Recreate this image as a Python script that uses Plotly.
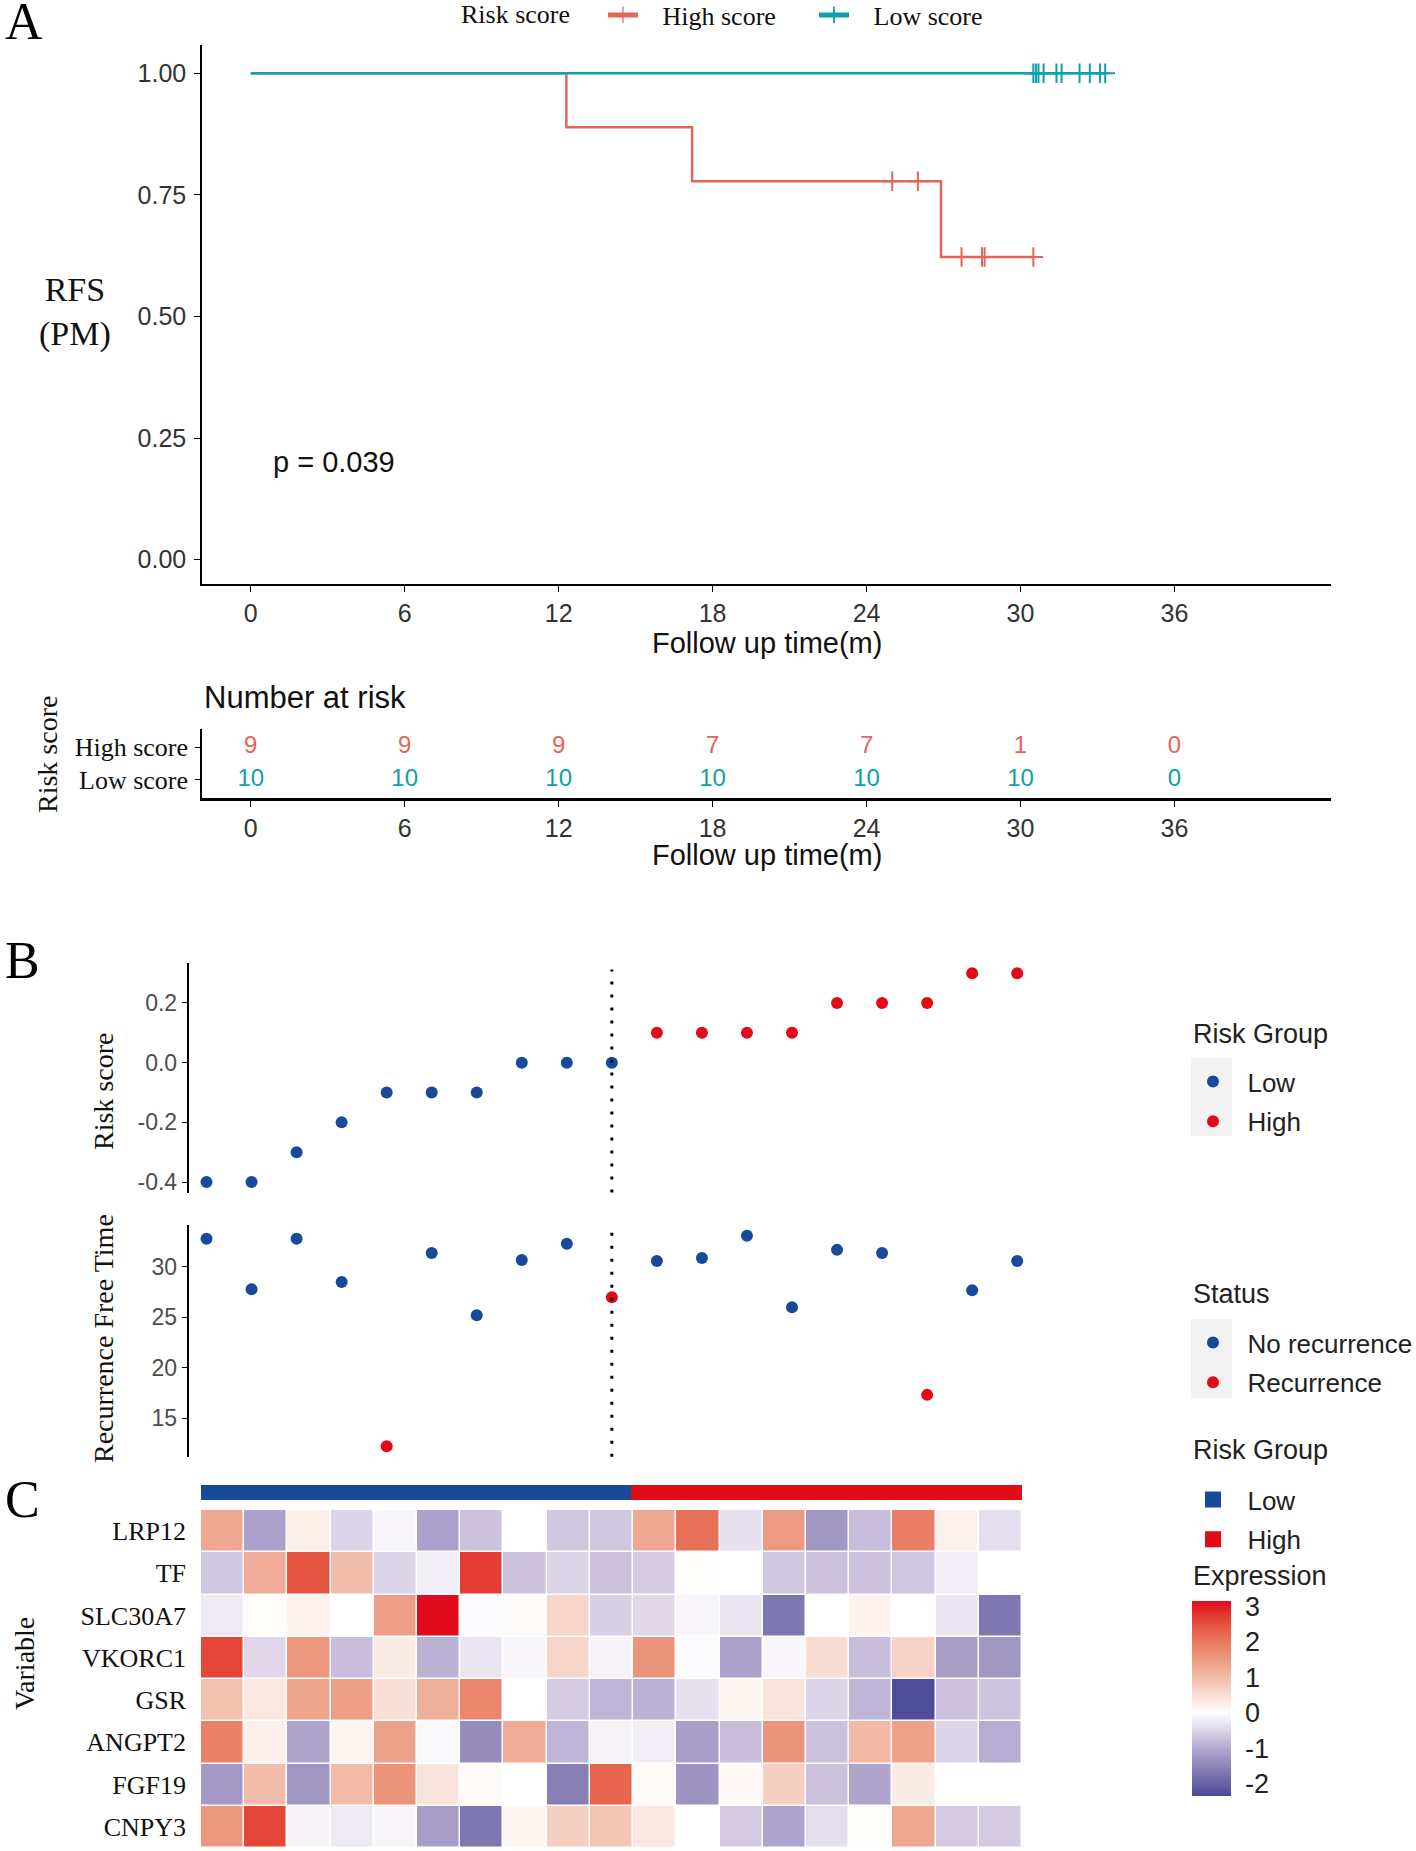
import numpy as np
import plotly.graph_objects as go

W, H = 1416, 1851
SERIF = "Liberation Serif, Times New Roman, serif"
SANS = "Liberation Sans, Arial, sans-serif"
NBSP = "\u00a0"

# ---------------- Panel A data ----------------
high_times = [12.3, 17.2, 25.0, 26.0, 26.9, 27.7, 28.5, 28.6, 30.5]
high_events = [1, 1, 0, 0, 1, 0, 0, 0, 0]
low_times = [30.5, 30.6, 30.7, 30.9, 31.4, 31.6, 32.3, 32.7, 33.1, 33.3]
low_events = [0, 0, 0, 0, 0, 0, 0, 0, 0, 0]
risk_times = [0, 6, 12, 18, 24, 30, 36]
risk_high = [9, 9, 9, 7, 7, 1, 0]
risk_low = [10, 10, 10, 10, 10, 10, 0]
km_ticks_x = [0, 6, 12, 18, 24, 30, 36]
km_ticks_y = [0.00, 0.25, 0.50, 0.75, 1.00]
p_text = "p = 0.039"

# ---------------- Panel B data ----------------
patient = list(range(1, 20))
risk_score = [-0.4, -0.4, -0.3, -0.2, -0.1, -0.1, -0.1, 0.0, 0.0, 0.0,
              0.1, 0.1, 0.1, 0.1, 0.2, 0.2, 0.2, 0.3, 0.3]
risk_group = ["Low"] * 10 + ["High"] * 9
rfs_time = [32.8, 27.8, 32.8, 28.5, 12.2, 31.4, 25.2, 30.7, 32.3, 27.0,
            30.6, 30.9, 33.1, 26.0, 31.7, 31.4, 17.3, 27.7, 30.6]
status = [0, 0, 0, 0, 1, 0, 0, 0, 0, 1, 0, 0, 0, 0, 0, 0, 1, 0, 0]
score_ticks = [-0.4, -0.2, 0.0, 0.2]
score_ticktext = ["-0.4", "-0.2", "0.0", "0.2"]
time_ticks = [15, 20, 25, 30]

# ---------------- Panel C data ----------------
genes = ["LRP12", "TF", "SLC30A7", "VKORC1", "GSR", "ANGPT2", "FGF19", "CNPY3"]
expr = [
    [1.3, -1.1, 0.25, -0.5, -0.1, -1.1, -0.7, 0.0, -0.65, -0.65, 1.3, 2.1, -0.35, 1.5, -1.25, -0.75, 1.9, 0.2, -0.4],
    [-0.65, 1.25, 2.45, 0.95, -0.5, -0.2, 2.7, -0.7, -0.5, -0.7, -0.6, 0.02, 0.0, -0.65, -0.7, -0.7, -0.65, -0.2, 0.0],
    [-0.25, 0.02, 0.2, 0.0, 1.45, 3.15, -0.05, 0.05, 0.6, -0.55, -0.45, -0.1, -0.3, -1.7, 0.0, 0.18, 0.0, -0.3, -1.7],
    [2.6, -0.45, 1.55, -0.75, 0.3, -0.9, -0.3, -0.1, 0.6, -0.15, 1.6, -0.05, -1.1, -0.1, 0.5, -0.75, 0.65, -1.15, -1.25],
    [0.9, 0.35, 1.35, 1.45, 0.45, 1.2, 1.8, 0.0, -0.6, -0.85, -0.9, -0.35, 0.12, 0.4, -0.5, -0.85, -2.3, -0.7, -0.68],
    [1.85, 0.22, -1.05, 0.15, 1.4, -0.08, -1.4, 1.25, -0.85, -0.15, -0.2, -1.15, -0.75, 1.6, -0.72, 1.05, 1.4, -0.5, -0.95],
    [-1.2, 0.95, -1.25, 1.0, 1.6, 0.4, 0.07, 0.0, -1.6, 2.25, 0.08, -1.3, 0.1, 0.7, -0.7, -1.05, 0.3, 0.0, 0.0],
    [1.55, 2.6, -0.15, -0.25, -0.12, -1.15, -1.7, 0.12, 0.7, 0.85, 0.35, 0.0, -0.6, -1.05, -0.4, 0.03, 1.3, -0.6, -0.6],
]
expr_ticks = [-2, -1, 0, 1, 2, 3]
expr_ticktext = ["-2", "-1", "0", "1", "2", "3"]

# ---------------- styles ----------------
C_HIGH_KM = "#E4655A"
C_LOW_KM = "#0FA0AA"
C_BLUE = "#174A98"
C_RED = "#E20B18"
ZMIN, ZMAX = -2.35, 3.15
stops = [(-2.35, "#4B4996"), (-1.5, "#8F86B8"), (-1.0, "#B3A8CE"), (-0.5, "#DCD4E8"),
         (0.0, "#FFFFFF"), (0.5, "#F8DDD3"), (1.0, "#F1BBA7"), (1.5, "#EC9B82"),
         (2.0, "#E8785F"), (2.5, "#E5523F"), (3.15, "#E10A1A")]
colorscale = [[(v - ZMIN) / (ZMAX - ZMIN), c] for v, c in stops]


def px_x(p):
    return p / W


def px_y(p):
    return 1 - p / H


def km_steps(times, events):
    order = np.argsort(times, kind="stable")
    t = np.asarray(times, float)[order]
    e = np.asarray(events)[order]
    s, n = 1.0, len(t)
    xs, ys, cens = [0.0], [1.0], [False]
    for ti, ei in zip(t, e):
        if ei:
            s *= (n - 1) / n
        xs.append(float(ti)); ys.append(s); cens.append(not ei)
        n -= 1
    return xs, ys, cens


fig = go.Figure()

# KM curves
for name, times, events, col in [("High score", high_times, high_events, C_HIGH_KM),
                                 ("Low score", low_times, low_events, C_LOW_KM)]:
    xs, ys, cens = km_steps(times, events)
    fig.add_trace(go.Scatter(
        x=xs, y=ys, mode="lines+markers", name=NBSP * 3 + name, legend="legend",
        line=dict(shape="hv", color=col, width=2.5),
        marker=dict(symbol="cross-thin", size=[14 if c else 0 for c in cens],
                    opacity=[1 if c else 0 for c in cens],
                    color=col, line=dict(width=2, color=col)),
        xaxis="x", yaxis="y"))

# risk table
for grp, counts, col in [("High score", risk_high, C_HIGH_KM), ("Low score", risk_low, C_LOW_KM)]:
    fig.add_trace(go.Scatter(
        x=risk_times, y=[grp] * len(risk_times), mode="text", text=[str(c) for c in counts],
        textfont=dict(family=SANS, size=24, color=col), showlegend=False,
        xaxis="x2", yaxis="y2", cliponaxis=False))

# Panel B scatter 1
for grp, col in [("Low", C_BLUE), ("High", C_RED)]:
    idx = [i for i, g in enumerate(risk_group) if g == grp]
    fig.add_trace(go.Scatter(
        x=[patient[i] for i in idx], y=[risk_score[i] for i in idx], mode="markers",
        name=NBSP * 2 + grp, legend="legend2", legendgroup="rg_" + grp,
        marker=dict(color=col, size=12),
        xaxis="x3", yaxis="y3", cliponaxis=False))

# Panel B scatter 2
for st, lab, col in [(0, "No recurrence", C_BLUE), (1, "Recurrence", C_RED)]:
    idx = [i for i, s in enumerate(status) if s == st]
    fig.add_trace(go.Scatter(
        x=[patient[i] for i in idx], y=[rfs_time[i] for i in idx], mode="markers",
        name=NBSP * 2 + lab, legend="legend3", legendgroup="st_" + lab,
        marker=dict(color=col, size=12),
        xaxis="x4", yaxis="y4", cliponaxis=False))

# annotation bar for heatmap
for grp, col in [("Low", C_BLUE), ("High", C_RED)]:
    idx = [i for i, g in enumerate(risk_group) if g == grp]
    fig.add_trace(go.Bar(
        x=[patient[i] for i in idx], y=[1] * len(idx), width=1, name=NBSP * 2 + grp,
        legend="legend4", legendgroup="hm_" + grp,
        marker=dict(color=col, line=dict(width=4, color=col)),
        xaxis="x5", yaxis="y5"))

# heatmap
fig.add_trace(go.Heatmap(
    z=expr, x=patient, y=genes, colorscale=colorscale, zmin=ZMIN, zmax=ZMAX,
    xgap=1.5, ygap=1.5, xaxis="x6", yaxis="y6",
    colorbar=dict(x=px_x(1192), xanchor="left", y=px_y(1796), yanchor="bottom",
                  len=195, lenmode="pixels", thickness=39, thicknessmode="pixels",
                  outlinewidth=0, ticks="outside", tickcolor="rgba(255,255,255,0)", ticklen=9,
                  tickvals=expr_ticks, ticktext=expr_ticktext,
                  tickfont=dict(family=SANS, size=27, color="#222"),
                  xpad=0, ypad=0)))

n_low = risk_group.count("Low")

axis_common = dict(showgrid=False, zeroline=False, showline=True, linecolor="black",
                   ticks="outside", tickcolor="black")

fig.update_layout(
    width=W, height=H, margin=dict(l=0, r=0, t=0, b=0, autoexpand=False),
    paper_bgcolor="white", plot_bgcolor="white", bargap=0,
    xaxis=dict(domain=[px_x(202), px_x(1331)], range=[-1.9, 42.1], tickvals=km_ticks_x,
               anchor="y", linewidth=2, ticklen=6,
               tickfont=dict(family=SANS, size=25, color="#333"), **axis_common),
    yaxis=dict(domain=[px_y(584), px_y(45)], range=[-0.05, 1.058], tickvals=km_ticks_y,
               anchor="x", tickformat=".2f", linewidth=1.5, ticklen=6, ticklabelstandoff=3,
               tickfont=dict(family=SANS, size=25, color="#333"), **axis_common),
    xaxis2=dict(domain=[px_x(202), px_x(1331)], range=[-1.9, 42.1], tickvals=risk_times,
                anchor="y2", linewidth=2.5, ticklen=6,
                tickfont=dict(family=SANS, size=25, color="#333"), **axis_common),
    yaxis2=dict(domain=[px_y(798), px_y(729)], type="category", anchor="x2",
                categoryarray=["Low score", "High score"], range=[-0.55, 1.55],
                linewidth=1.5, ticklen=5, ticklabelstandoff=2,
                tickfont=dict(family=SERIF, size=26, color="#111"), **axis_common),
    xaxis3=dict(domain=[px_x(188.5), px_x(1035.2)], range=[0.6, 19.4], visible=False, anchor="y3"),
    yaxis3=dict(domain=[px_y(1192.5), px_y(962.7)], range=[-0.435, 0.335], anchor="x3",
                tickvals=score_ticks, ticktext=score_ticktext, linewidth=1.5, ticklen=5,
                tickfont=dict(family=SANS, size=23, color="#4D4D4D"), **axis_common),
    xaxis4=dict(domain=[px_x(188.5), px_x(1035.2)], range=[0.6, 19.4], visible=False, anchor="y4"),
    yaxis4=dict(domain=[px_y(1456.8), px_y(1225.2)], range=[11.15, 34.15], anchor="x4",
                tickvals=time_ticks, linewidth=1.5, ticklen=5,
                tickfont=dict(family=SANS, size=23, color="#4D4D4D"), **axis_common),
    xaxis5=dict(domain=[px_x(201), px_x(1022)], range=[0.5, 19.5], visible=False, anchor="y5"),
    yaxis5=dict(domain=[px_y(1500), px_y(1485)], range=[0, 1], visible=False, anchor="x5"),
    xaxis6=dict(domain=[px_x(201), px_x(1022)], range=[0.5, 19.5], visible=False, anchor="y6"),
    yaxis6=dict(domain=[px_y(1848), px_y(1510)], type="category", anchor="x6",
                categoryarray=genes[::-1], showgrid=False, zeroline=False, showline=False,
                ticks="", ticklabelstandoff=14, tickfont=dict(family=SERIF, size=26, color="#111")),
    legend=dict(orientation="h", x=px_x(603), xanchor="left", y=px_y(15), yanchor="middle",
                font=dict(family=SERIF, size=26, color="#111"), itemsizing="constant",
                entrywidth=166, entrywidthmode="pixels",
                bgcolor="rgba(0,0,0,0)", traceorder="normal"),
    legend2=dict(x=px_x(1193), xanchor="left", y=px_y(1058), yanchor="top",
                 font=dict(family=SANS, size=26, color="#222"), itemsizing="constant",
                 tracegroupgap=3, bgcolor="rgba(0,0,0,0)"),
    legend3=dict(x=px_x(1193), xanchor="left", y=px_y(1319), yanchor="top",
                 font=dict(family=SANS, size=26, color="#222"), itemsizing="constant",
                 tracegroupgap=3, bgcolor="rgba(0,0,0,0)"),
    legend4=dict(x=px_x(1193), xanchor="left", y=px_y(1476), yanchor="top",
                 font=dict(family=SANS, size=26, color="#222"),
                 tracegroupgap=3, bgcolor="rgba(0,0,0,0)"),
)

# cut-off lines between risk groups
fig.add_shape(type="line", xref="x3", yref="y3 domain", x0=n_low, x1=n_low, y0=0, y1=0.97,
              line=dict(color="black", width=3, dash="3px,10px"))
fig.add_shape(type="line", xref="x4", yref="y4 domain", x0=n_low, x1=n_low, y0=0, y1=0.97,
              line=dict(color="black", width=3, dash="3px,10px"))

# grey legend-key backgrounds (ggplot style)
for y0, y1 in [(1058, 1136), (1319, 1398)]:
    fig.add_shape(type="rect", xref="paper", yref="paper", layer="below",
                  x0=px_x(1191), x1=px_x(1232), y0=px_y(y1), y1=px_y(y0),
                  fillcolor="#F2F2F2", line=dict(width=0))


def ann(text, x, y, size, family, color="#111", angle=0, xanchor="center", **kw):
    fig.add_annotation(text=text, x=px_x(x), y=px_y(y), xref="paper", yref="paper",
                       showarrow=False, textangle=angle, xanchor=xanchor, yanchor="middle",
                       font=dict(family=family, size=size, color=color), **kw)


ann("A", 24, 22, 52, SERIF, "#000")
ann("B", 22, 961, 52, SERIF, "#000")
ann("C", 22, 1499, 52, SERIF, "#000")
ann("RFS<br>(PM)", 75, 312, 34, SERIF, "#111")
ann("Risk score", 459, 15, 26, SERIF, "#111", xanchor="left")
ann("Follow up time(m)", 767, 643, 29, SANS, "#111")
ann("Number at risk", 202, 697, 31, SANS, "#111", xanchor="left")
ann("Risk score", 47, 755, 28, SERIF, "#111", angle=-90)
ann("Follow up time(m)", 767, 855, 29, SANS, "#111")
ann("Risk score", 103, 1092, 28, SERIF, "#111", angle=-90)
ann("Recurrence Free Time", 103, 1339, 28, SERIF, "#111", angle=-90)
ann("Variable", 24, 1664, 28, SERIF, "#111", angle=-90)
ann("Risk Group", 1191, 1034, 27, SANS, "#222", xanchor="left")
ann("Status", 1191, 1294, 27, SANS, "#222", xanchor="left")
ann("Risk Group", 1191, 1450, 27, SANS, "#222", xanchor="left")
ann("Expression", 1191, 1576, 27, SANS, "#222", xanchor="left")
fig.add_annotation(text=p_text, x=0.8, y=0.2, xref="x", yref="y", showarrow=False,
                   xanchor="left", yanchor="middle", font=dict(family=SANS, size=29, color="#111"))

fig.write_html("out.html", config={"displayModeBar": False},
               post_script="document.body.style.margin='0px';")
